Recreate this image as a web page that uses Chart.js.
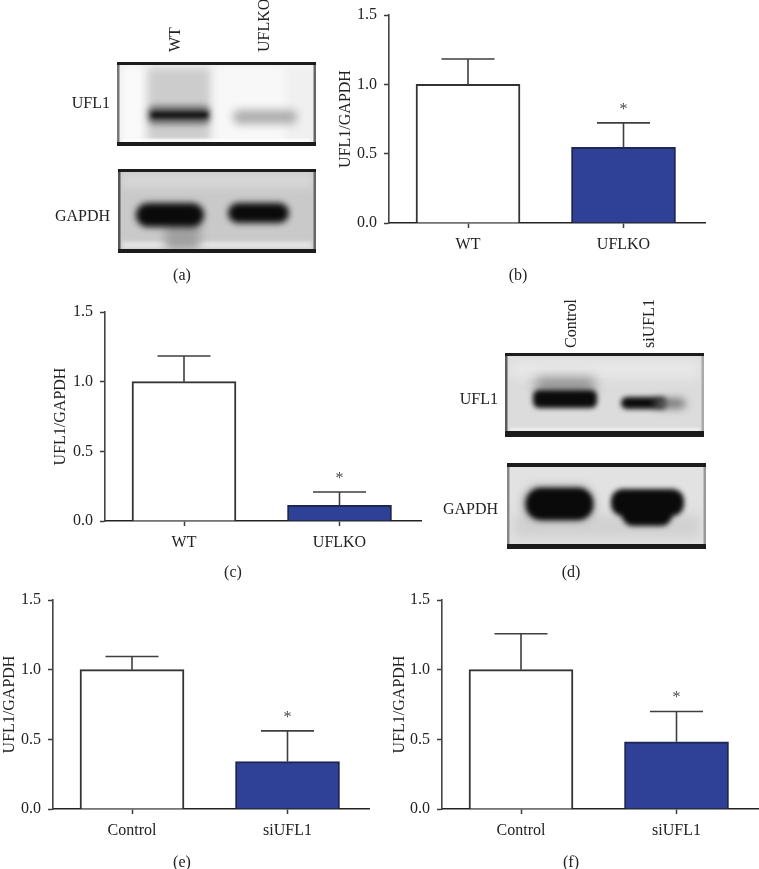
<!DOCTYPE html>
<html>
<head>
<meta charset="utf-8">
<title>UFL1 Western blots</title>
<script src="https://cdn.jsdelivr.net/npm/chart.js@4/dist/chart.umd.js"></script>
<style>
    html, body { margin: 0; padding: 0; background: #fff; }
    body { position: relative; width: 759px; height: 869px; overflow: hidden; font-family: "Liberation Serif", serif; }
    canvas { position: absolute; }
    .txt { position: absolute; font-size: 16px; color: #222222; white-space: nowrap; line-height: 1; }
</style>
</head>
<body>
<canvas id="blots" width="759" height="869" style="left:0;top:0"></canvas>
<canvas id="chartB"></canvas>
<canvas id="chartC"></canvas>
<canvas id="chartE"></canvas>
<canvas id="chartF"></canvas>
<script>
// Daten
const koCategories = ["WT", "UFLKO"];
const siCategories = ["Control", "siUFL1"];
const yTicks = [0, 0.5, 1, 1.5];
const stars = ["", "*"];

const valuesB = [1.0, 0.545];
const errTopB = [1.183, 0.722];
const valuesC = [1.0, 0.113];
const errTopC = [1.184, 0.208];
const valuesE = [1.0, 0.34];
const errTopE = [1.095, 0.561];
const valuesF = [1.0, 0.482];
const errTopF = [1.258, 0.70];

const FONT = "Liberation Serif";
const BLUE = "#2f4196";
const AXIS = "#3c3c3c";
const TEXT = "#222222";

// Fehlerbalken und Sternchen, Chart.js hat das nicht eingebaut
const errorBars = {
    id: "errorBars",
    afterDatasetsDraw(chart) {
        const ctx = chart.ctx;
        const ds = chart.data.datasets[0];
        const y = chart.scales.y;
        chart.getDatasetMeta(0).data.forEach((bar, i) => {
            const top = y.getPixelForValue(ds.errTop[i]);
            ctx.save();
            ctx.strokeStyle = "#3f3f3f";
            ctx.lineWidth = 1.6;
            ctx.beginPath();
            ctx.moveTo(bar.x, y.getPixelForValue(ds.data[i].y));
            ctx.lineTo(bar.x, top);
            ctx.moveTo(bar.x - 26.5, top);
            ctx.lineTo(bar.x + 26.5, top);
            ctx.stroke();
            if (ds.stars[i]) {
                ctx.fillStyle = "#4a4a4a";
                ctx.font = "16px '" + FONT + "'";
                ctx.textAlign = "center";
                ctx.textBaseline = "alphabetic";
                ctx.fillText(ds.stars[i], bar.x, top - 9);
            }
            ctx.restore();
        });
    }
};

// ein Balkendiagramm, Achsenlinie bei axisX, Nulllinie bei bottom
function barPanel(id, canvasLeft, axisX, top, bottom, right, cats, values, errTop) {
    const canvas = document.getElementById(id);
    const canvasTop = top - 14;
    canvas.style.left = canvasLeft + "px";
    canvas.style.top = canvasTop + "px";
    canvas.width = right - canvasLeft;
    canvas.height = bottom - canvasTop + 40;

    const unit = 155.5; // Abstand der Balkenmitten
    const xMin = 1 - 79 / unit;
    const xMax = xMin + (right - axisX) / unit;

    return new Chart(canvas, {
        type: "bar",
        data: {
            datasets: [{
                data: values.map((v, i) => ({ x: i + 1, y: v })),
                errTop: errTop,
                stars: stars,
                backgroundColor: ["#ffffff", BLUE],
                borderColor: ["#333333", "#1d2753"],
                borderWidth: 2,
                borderSkipped: "bottom",
                barThickness: 104
            }]
        },
        options: {
            responsive: false,
            animation: false,
            layout: { padding: { top: 14, left: 0, right: 0, bottom: 0 } },
            plugins: { legend: { display: false }, tooltip: { enabled: false } },
            scales: {
                x: {
                    type: "linear",
                    offset: false,
                    min: xMin,
                    max: xMax,
                    afterBuildTicks: (scale) => { scale.ticks = cats.map((c, i) => ({ value: i + 1 })); },
                    afterFit: (scale) => { scale.height = 40; scale.paddingLeft = 0; scale.paddingRight = 0; },
                    grid: { offset: false, drawOnChartArea: false, tickLength: 5, tickColor: AXIS, tickWidth: 1.5 },
                    border: { color: "#222222", width: 1.6 },
                    ticks: {
                        autoSkip: false,
                        maxRotation: 0,
                        padding: 7,
                        color: TEXT,
                        font: { family: FONT, size: 16 },
                        callback: (v) => cats[v - 1]
                    }
                },
                y: {
                    min: 0,
                    max: 1.5,
                    afterBuildTicks: (scale) => { scale.ticks = yTicks.map((v) => ({ value: v })); },
                    afterFit: (scale) => { scale.width = axisX - canvasLeft; scale.paddingTop = 0; scale.paddingBottom = 0; },
                    grid: { drawOnChartArea: false, tickLength: 5, tickColor: AXIS, tickWidth: 1.5 },
                    border: { color: "#444444", width: 1.6 },
                    title: {
                        display: true,
                        text: "UFL1/GAPDH",
                        color: TEXT,
                        padding: 0,
                        font: { family: FONT, size: 16 }
                    },
                    ticks: {
                        padding: 7,
                        color: TEXT,
                        font: { family: FONT, size: 16 },
                        callback: (v) => v.toFixed(1)
                    }
                }
            }
        },
        plugins: [errorBars]
    });
}

barPanel("chartB", 336, 389, 15, 223, 706, koCategories, valuesB, errTopB);
barPanel("chartC", 51, 105, 312, 521, 422, koCategories, valuesC, errTopC);
barPanel("chartE", 0, 53, 600, 809, 370, siCategories, valuesE, errTopE);
barPanel("chartF", 390, 442, 600, 809, 759, siCategories, valuesF, errTopF);

// Text neben den Blots und Unterschriften
function addText(text, x, y, mode) {
    const el = document.createElement("div");
    el.className = "txt";
    el.textContent = text;
    el.style.left = x + "px";
    el.style.top = y + "px";
    if (mode === "center") el.style.transform = "translate(-50%, -50%)";
    if (mode === "right") el.style.transform = "translate(-100%, -50%)";
    // unten bündig, gedreht
    if (mode === "up") el.style.transform = "translate(-50%, -50%) rotate(-90deg) translate(50%, 0)";
    document.body.appendChild(el);
}

addText("WT", 175, 52, "up");
addText("UFLKO", 264, 52, "up");
addText("Control", 571, 348, "up");
addText("siUFL1", 649, 348, "up");
addText("UFL1", 110, 103, "right");
addText("GAPDH", 110, 216, "right");
addText("UFL1", 498, 399, "right");
addText("GAPDH", 498, 509, "right");
addText("(a)", 182, 275, "center");
addText("(b)", 518, 275, "center");
addText("(c)", 233, 572, "center");
addText("(d)", 571, 572, "center");
addText("(e)", 182, 862, "center");
addText("(f)", 571, 862, "center");

// Blots sind Fotos, hier nur unscharf nachgemalt
const bctx = document.getElementById("blots").getContext("2d");

function blob(x, y, w, h, r, color, blur) {
    bctx.save();
    bctx.filter = "blur(" + blur + "px)";
    bctx.fillStyle = color;
    bctx.beginPath();
    bctx.roundRect(x, y, w, h, r);
    bctx.fill();
    bctx.restore();
}

function blot(x, y, w, h, bg, inner, sides, topW, botW) {
    bctx.fillStyle = bg;
    bctx.fillRect(x, y, w, h);
    bctx.save();
    bctx.beginPath();
    bctx.rect(x, y, w, h);
    bctx.clip();
    inner();
    bctx.restore();
    bctx.fillStyle = sides[0];
    bctx.fillRect(x, y, 2.5, h);
    bctx.fillStyle = sides[1];
    bctx.fillRect(x + w - 2.5, y, 2.5, h);
    bctx.fillStyle = "#1c1c1c";
    bctx.fillRect(x, y, w, topW);
    bctx.fillRect(x, y + h - botW, w, botW);
}

blot(117, 62, 199, 84, "#f0f0f0", () => {
    blob(122, 66, 22, 76, 3, "#fafafa", 4);
    blob(148, 68, 62, 74, 3, "#cccccc", 4);
    blob(216, 66, 70, 76, 3, "#f8f8f8", 4);
    blob(148, 106, 62, 18, 6, "#666666", 3);
    blob(151, 112, 57, 6, 3, "#0d0d0d", 2);
    blob(233, 110, 64, 14, 6, "#adadad", 4);
    blob(122, 139, 188, 3, 1, "#ffffff", 1);
}, ["#777777", "#666666"], 3, 4);

blot(118, 169, 198, 84, "#c9c9c9", () => {
    blob(122, 174, 190, 14, 3, "#d8d8d8", 5);
    blob(122, 242, 190, 6, 2, "#e8e8e8", 2);
    blob(165, 222, 35, 28, 6, "#a0a0a0", 5);
    blob(136, 203, 68, 24, 12, "#0a0a0a", 3);
    blob(228, 203, 61, 20, 10, "#0a0a0a", 3);
}, ["#555555", "#666666"], 3, 4);

blot(505, 353, 199, 84, "#dcdcdc", () => {
    blob(510, 360, 190, 18, 3, "#e8e8e8", 6);
    blob(535, 378, 60, 14, 5, "#8c8c8c", 6);
    blob(533, 390, 64, 18, 6, "#0b0b0b", 2.5);
    blob(621, 397, 46, 12, 6, "#0b0b0b", 2.5);
    blob(655, 399, 30, 9, 4, "#6c6c6c", 4);
    blob(510, 428, 190, 3, 1, "#f0f0f0", 1);
}, ["#5c5c5c", "#aaaaaa"], 3, 6);

blot(507, 463, 199, 86, "#e2e2e2", () => {
    blob(513, 515, 188, 22, 3, "#d0d0d0", 6);
    blob(524, 487, 70, 33, 15, "#8a8a8a", 5);
    blob(526, 488, 67, 32, 15, "#0a0a0a", 2.5);
    blob(611, 489, 73, 27, 12, "#0a0a0a", 2.5);
    blob(622, 504, 50, 22, 11, "#0a0a0a", 2.5);
}, ["#888888", "#999999"], 4, 5);
</script>
</body>
</html>
